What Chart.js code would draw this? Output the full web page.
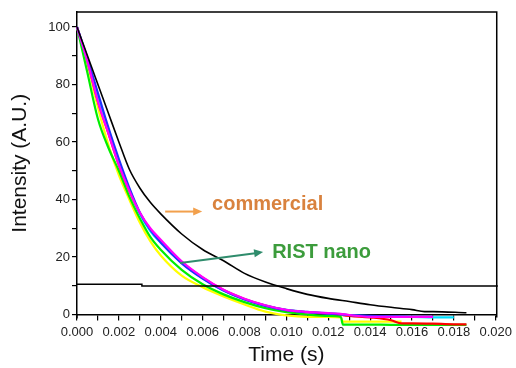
<!DOCTYPE html>
<html lang="en">
<head>
    <meta charset="UTF-8">
    <title>Intensity decay</title>
    <script src="https://cdn.jsdelivr.net/npm/chart.js"></script>
    <style>
        html, body { margin: 0; padding: 0; background: #ffffff; }
        #wrap { width: 516px; height: 368px; }
    </style>
</head>
<body>
<div id="wrap"><canvas id="decayChart" width="516" height="368"></canvas></div>

<script>
    // time grid (s) for the RIST nano curves
    const tNano = [0, 0.0005, 0.001, 0.0015, 0.002, 0.0025, 0.003, 0.0035, 0.004, 0.005, 0.006, 0.007,
                   0.008, 0.009, 0.010, 0.011, 0.012, 0.0126, 0.0127, 0.014, 0.015, 0.0155, 0.016, 0.017, 0.018, 0.0186];

    const magenta = [100, 88, 74, 63, 52, 43, 35.5, 30, 26, 18.5, 13, 8.6, 5.5, 3.2, 1.6, 0.9, 0.5, 0.2, 0.1, -0.8, -0.8, -0.8, -0.8, -0.8, null, null];
    const blue    = [100, 89, 77, 65, 54, 44, 35.5, 29.5, 25, 17.8, 12.5, 8.3, 5.2, 3.0, 1.5, 0.8, 0.3, 0.1, 0, -0.5, -0.6, -0.7, -0.8, -0.8, null, null];
    const cyan    = [100, 88, 75, 64, 53, 43.5, 35, 29, 25, 18, 12.6, 8.3, 5.3, 3.1, 1.6, 0.9, 0.4, 0.1, 0, -0.6, -0.8, -0.8, -0.8, -1.0, -1.0, null];
    const red     = [100, 88, 74, 63, 52, 43, 35.2, 29.5, 25.5, 18.2, 12.8, 8.5, 5.4, 3.1, 1.5, 0.8, 0.3, 0, -0.2, -1.0, -2.0, -3.1, -3.1, -3.2, -3.4, -3.4];
    const green   = [100, 84, 68, 58, 50, 41, 33.5, 27, 22.5, 15.5, 10.5, 7.0, 4.3, 2.2, 0.8, 0, -0.5, -0.8, -3.5, -3.5, -3.6, -3.6, -3.6, -3.6, -3.6, -3.6];
    const yellow  = [100, 87, 72, 59, 48.5, 40, 32, 25.5, 20.5, 13.5, 9.5, 6.3, 3.5, 1.0, -0.3, -0.8, -0.8, -1.0, -2.5, -2.5, -2.5, -2.5, null, null, null, null];

    // commercial sample
    const tComm = [0, 0.0005, 0.001, 0.0015, 0.002, 0.0025, 0.003, 0.0035, 0.004, 0.005, 0.006, 0.007, 0.008,
                   0.009, 0.010, 0.011, 0.012, 0.013, 0.014, 0.015, 0.016, 0.0166, 0.017, 0.0186];
    const commercial = [100, 90, 80, 70, 60, 50.5, 44, 39, 35, 28, 22.6, 18.7, 14.3, 11.3, 9.0, 7.0, 5.6, 4.5, 3.4, 2.5, 1.7, 1.0, 1.0, 0.6];

    // 10 % reference level
    const tLevel = [0, 0.0031, 0.0031, 0.0201];
    const level = [10.5, 10.5, 9.9, 9.9];

    const xTicksLabelled = 0.002;
    const yTicksLabelled = 20;

    function pts(xs, ys) {
        const out = [];
        xs.forEach((x, i) => { if (ys[i] !== null) out.push({ x: x, y: ys[i] }); });
        return out;
    }

    function curve(label, xs, ys, color, width, order) {
        return {
            label: label,
            data: pts(xs, ys),
            borderColor: color,
            borderWidth: width,
            pointRadius: 0,
            fill: false,
            clip: false,
            cubicInterpolationMode: 'monotone',
            order: order
        };
    }

    // annotations positioned in data coordinates
    const notes = [
        { text: 'commercial', color: '#d9823e', x: 0.00645, y: 38.1,
          arrow: { from: [0.00421, 35.8], to: [0.00598, 35.8], color: '#f2a04c' } },
        { text: 'RIST nano', color: '#3c9c3c', x: 0.00932, y: 21.4,
          arrow: { from: [0.00492, 17.9], to: [0.00889, 21.7], color: '#2f8c6c' } }
    ];

    const framePlugin = {
        id: 'frame',
        afterDraw(chart) {
            const { ctx, chartArea: a, scales } = chart;
            ctx.save();
            ctx.strokeStyle = '#000';
            ctx.lineWidth = 1.5;
            ctx.beginPath();
            ctx.moveTo(a.left, a.top);
            ctx.lineTo(a.right + 1, a.top);
            ctx.lineTo(a.right + 1, a.bottom + 3);
            ctx.moveTo(a.left, a.bottom);
            ctx.lineTo(a.left, a.bottom + 4);
            ctx.stroke();

            notes.forEach(n => {
                const ar = n.arrow;
                const x1 = scales.x.getPixelForValue(ar.from[0]);
                const y1 = scales.y.getPixelForValue(ar.from[1]);
                const x2 = scales.x.getPixelForValue(ar.to[0]);
                const y2 = scales.y.getPixelForValue(ar.to[1]);
                const ang = Math.atan2(y2 - y1, x2 - x1);
                ctx.strokeStyle = ar.color;
                ctx.fillStyle = ar.color;
                ctx.lineWidth = 2;
                ctx.beginPath();
                ctx.moveTo(x1, y1);
                ctx.lineTo(x2 - 6 * Math.cos(ang), y2 - 6 * Math.sin(ang));
                ctx.stroke();
                ctx.beginPath();
                ctx.moveTo(x2, y2);
                ctx.lineTo(x2 - 9 * Math.cos(ang) + 4 * Math.sin(ang), y2 - 9 * Math.sin(ang) - 4 * Math.cos(ang));
                ctx.lineTo(x2 - 9 * Math.cos(ang) - 4 * Math.sin(ang), y2 - 9 * Math.sin(ang) + 4 * Math.cos(ang));
                ctx.closePath();
                ctx.fill();

                ctx.font = 'bold 20px "Liberation Sans", Arial, sans-serif';
                ctx.textAlign = 'left';
                ctx.textBaseline = 'middle';
                ctx.fillStyle = n.color;
                ctx.fillText(n.text, scales.x.getPixelForValue(n.x), scales.y.getPixelForValue(n.y));
            });
            ctx.restore();
        }
    };

    new Chart(document.getElementById('decayChart'), {
        type: 'line',
        data: {
            datasets: [
                curve('commercial', tComm, commercial, '#000000', 1.6, 0),
                curve('level', tLevel, level, '#000000', 1.5, 1),
                curve('magenta', tNano, magenta, '#ff00ff', 2.2, 2),
                curve('blue', tNano, blue, '#2030ff', 2.2, 3),
                curve('cyan', tNano, cyan, '#00e0ff', 2.2, 4),
                curve('red', tNano, red, '#ff0000', 2.2, 5),
                curve('green', tNano, green, '#00ee00', 2.2, 6),
                curve('yellow', tNano, yellow, '#ffff00', 2.2, 7)
            ]
        },
        options: {
            responsive: false,
            animation: false,
            layout: { padding: { top: 12, right: 20, left: 0, bottom: 0 } },
            plugins: { legend: { display: false }, tooltip: { enabled: false } },
            scales: {
                x: {
                    type: 'linear',
                    min: 0,
                    max: 0.02,
                    afterFit: s => { s.height = 53.5; },
                    border: { display: true, color: '#000', width: 1.5 },
                    grid: { drawOnChartArea: false, drawTicks: true, tickLength: 6, color: '#000', lineWidth: 1.2 },
                    ticks: {
                        stepSize: 0.001,
                        autoSkip: false,
                        maxRotation: 0,
                        includeBounds: false,
                        padding: 4,
                        color: '#222',
                        font: { family: '"Liberation Sans", Arial, sans-serif', size: 13 },
                        callback: v => (Math.abs(Math.round(v / 0.001)) % Math.round(xTicksLabelled / 0.001) === 0 ? v.toFixed(3) : '')
                    },
                    title: {
                        display: true,
                        text: 'Time (s)',
                        color: '#111',
                        padding: { top: 0, bottom: 0 },
                        font: { family: '"Liberation Sans", Arial, sans-serif', size: 21 }
                    }
                },
                y: {
                    type: 'linear',
                    min: 0,
                    max: 105.2,
                    afterFit: s => { s.width = 77; },
                    border: { display: true, color: '#000', width: 1.5 },
                    grid: { drawOnChartArea: false, drawTicks: true, tickLength: 5, color: '#000', lineWidth: 1.2 },
                    ticks: {
                        stepSize: 10,
                        includeBounds: false,
                        padding: 2,
                        color: '#222',
                        font: { family: '"Liberation Sans", Arial, sans-serif', size: 13 },
                        callback: v => (Math.round(v) % yTicksLabelled === 0 ? String(Math.round(v)) : '')
                    },
                    title: {
                        display: true,
                        text: 'Intensity (A.U.)',
                        color: '#111',
                        padding: { top: 8, bottom: 0 },
                        font: { family: '"Liberation Sans", Arial, sans-serif', size: 21 }
                    }
                }
            }
        },
        plugins: [framePlugin]
    });
</script>
</body>
</html>
